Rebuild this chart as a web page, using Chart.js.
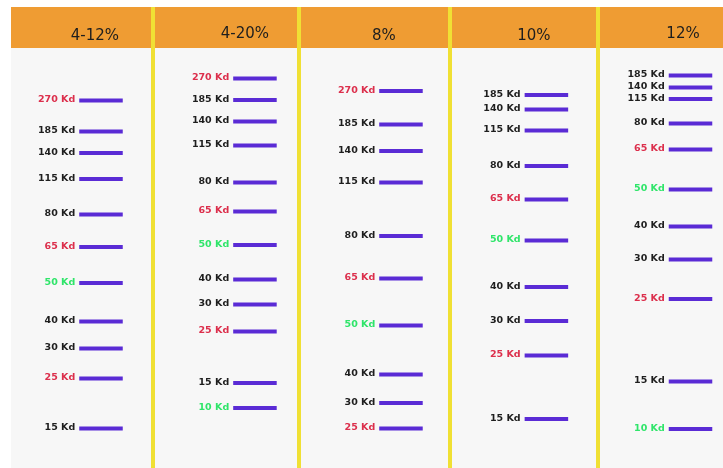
<!DOCTYPE html>
<html>
<head>
<meta charset="utf-8">
<script src="https://cdn.jsdelivr.net/npm/chart.js@4/dist/chart.umd.min.js"></script>
<style>
  html, body { margin: 0; padding: 0; background: #ffffff; }
  #wrap { width: 723px; height: 468px; position: relative; }
</style>
</head>
<body>
<div id="wrap"><canvas id="c"></canvas></div>
<script>
// Gel types (lane headers)
const gels = ['4-12%', '4-20%', '8%', '10%', '12%'];

// Marker sizes (Kd) per lane
const kd_4_12 = [270, 185, 140, 115, 80, 65, 50, 40, 30, 25, 15];
const kd_4_20 = [270, 185, 140, 115, 80, 65, 50, 40, 30, 25, 15, 10];
const kd_8    = [270, 185, 140, 115, 80, 65, 50, 40, 30, 25];
const kd_10   = [185, 140, 115, 80, 65, 50, 40, 30, 25, 15];
const kd_12   = [185, 140, 115, 80, 65, 50, 40, 30, 25, 15, 10];

// Migration distance from the top of the gel
const mig_4_12 = [52.5, 83.5, 105, 131, 166.5, 199, 235, 273.5, 300.5, 330.5, 380.5];
const mig_4_20 = [30.5, 52, 73.5, 97.5, 134.5, 163.5, 197, 231.5, 256.5, 283.5, 335, 360];
const mig_8    = [43, 76.5, 103, 134.5, 188, 230.5, 277.5, 326.5, 355, 380.5];
const mig_10   = [47, 61.5, 82.5, 118, 151.5, 192.5, 239, 273, 307.5, 371];
const mig_12   = [27.5, 39.5, 51, 75.5, 101.5, 141.5, 178.5, 211.5, 251, 333.5, 381];

const lanesKd  = [kd_4_12, kd_4_20, kd_8, kd_10, kd_12];
const lanesMig = [mig_4_12, mig_4_20, mig_8, mig_10, mig_12];

const redKd = [270, 65, 25];
const greenKd = [50, 10];

// layout (lane geometry, in x-scale units)
const laneCenter = [0.635, 0.682, 0.675, 0.664, 0.644];
const laneEdges  = [0.988, 1.981, 3.008, 4.015];
const headerX    = [0.594, 0.614, 0.559, 0.579, 0.593];
const headerY    = [-12, -14, -12, -12, -14];
const BAND_HALF = 0.148;
const BAND_COLOR = '#5a2bd5';

function labelColor(k) {
  if (redKd.includes(k)) return '#dc2f4c';
  if (greenKd.includes(k)) return '#2fe56a';
  return '#1e1e1e';
}

const datasets = [];
lanesKd.forEach((kds, lane) => {
  const c = lane + laneCenter[lane];
  kds.forEach((k, j) => {
    const y = lanesMig[lane][j];
    datasets.push({
      label: gels[lane] + ' ' + k + ' Kd',
      lane: lane, kd: k,
      data: [{x: c - BAND_HALF, y: y}, {x: c + BAND_HALF, y: y}],
      borderColor: BAND_COLOR,
      borderWidth: 4,
      borderCapStyle: 'butt',
      pointRadius: 0,
      fill: false
    });
  });
});

const decor = {
  id: 'decor',
  beforeDraw(chart) {
    const {ctx, chartArea: a, scales: {y}} = chart;
    const gelTop = y.getPixelForValue(0);
    ctx.save();
    ctx.fillStyle = '#ef9c33';
    ctx.fillRect(a.left, a.top, a.right - a.left, gelTop - a.top);
    ctx.fillStyle = '#f7f7f7';
    ctx.fillRect(a.left, gelTop, a.right - a.left, a.bottom - gelTop);
    ctx.restore();
  },
  afterDatasetsDraw(chart) {
    const {ctx, scales: {x, y}} = chart;
    ctx.save();
    // lane headers
    ctx.font = '15px "DejaVu Sans"';
    ctx.fillStyle = '#1e1e1e';
    ctx.textAlign = 'center';
    ctx.textBaseline = 'middle';
    gels.forEach((g, i) => {
      ctx.fillText(g, x.getPixelForValue(i + headerX[i]), y.getPixelForValue(headerY[i]));
    });
    // band labels
    ctx.font = 'bold 9.5px "DejaVu Sans"';
    ctx.textAlign = 'right';
    chart.data.datasets.forEach(ds => {
      const px = x.getPixelForValue(ds.data[0].x) - 4;
      const py = y.getPixelForValue(ds.data[0].y) - 0.5;
      ctx.fillStyle = labelColor(ds.kd);
      ctx.fillText(ds.kd + ' Kd', px, py);
    });
    ctx.restore();
  }
};

new Chart(document.getElementById('c'), {
  type: 'line',
  data: { datasets },
  options: {
    responsive: true,
    maintainAspectRatio: false,
    animation: false,
    layout: { padding: { top: 7, left: 11, right: 0, bottom: 0 } },
    plugins: { legend: { display: false }, tooltip: { enabled: false } },
    scales: {
      x: {
        type: 'linear',
        position: 'top',
        min: 0.023, max: 4.865,
        afterBuildTicks(s) { s.ticks = laneEdges.map(v => ({value: v})); },
        grid: { color: '#f0e034', lineWidth: 4, drawTicks: false },
        ticks: { display: false },
        border: { display: false }
      },
      y: {
        type: 'linear',
        display: false,
        reverse: true,
        min: -41, max: 420
      }
    }
  },
  plugins: [decor]
});
</script>
</body>
</html>
